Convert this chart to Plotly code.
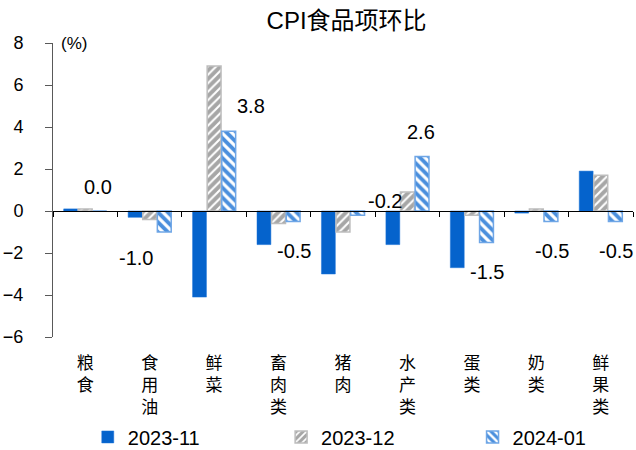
import plotly.graph_objects as go

categories = ["粮食", "食用油", "鲜菜", "畜肉类", "猪肉", "水产类", "蛋类", "奶类", "鲜果类"]
series_names = ["2023-11", "2023-12", "2024-01"]
v_2023_11 = [0.1, -0.3, -4.1, -1.6, -3.0, -1.6, -2.7, -0.1, 1.9]
v_2023_12 = [0.1, -0.4, 6.9, -0.6, -1.0, 0.9, -0.2, 0.1, 1.7]
v_2024_01 = [0.0, -1.0, 3.8, -0.5, -0.2, 2.6, -1.5, -0.5, -0.5]
y_ticks = [-6, -4, -2, 0, 2, 4, 6, 8]

# label pixel offsets (style only)
label_offsets = [(13, 24), (-14, -26), (37, 25), (15, -29), (42, 14),
                 (14, 24), (15, -29), (16, -29), (15, -29)]

vert = ["<br>".join(list(c)) for c in categories]

fig = go.Figure()
fig.add_trace(go.Bar(
    x=vert, y=v_2023_11, name=series_names[0], legend="legend",
    marker=dict(color="#0563CC", line=dict(color="#1A73D9", width=0.5)),
))
fig.add_trace(go.Bar(
    x=vert, y=v_2023_12, name=series_names[1], legend="legend2",
    marker=dict(color="#A6A6A6", line=dict(color="#BDBDBD", width=1.5),
                pattern=dict(shape="/", fgcolor="white", fgopacity=1, size=6, solidity=0.35)),
))
fig.add_trace(go.Bar(
    x=vert, y=v_2024_01, name=series_names[2], legend="legend3",
    marker=dict(color="#4A8FDD", line=dict(color="#6FA6E6", width=1.5),
                pattern=dict(shape="\\", fgcolor="white", fgopacity=1, size=7, solidity=0.45)),
))
# invisible trace to carry the zero-line axis
fig.add_trace(go.Scatter(x=vert, y=[None] * len(vert), xaxis="x2", mode="none",
                         showlegend=False, hoverinfo="skip"))

for i, (cat, v) in enumerate(zip(vert, v_2024_01)):
    dx, dy = label_offsets[i]
    fig.add_annotation(x=cat, y=v, text=f"{v:.1f}", showarrow=False,
                       xshift=dx, yshift=dy,
                       font=dict(family="Arial, Liberation Sans", size=20, color="black"))

fig.add_annotation(xref="paper", yref="paper", x=0.01, y=1.0, xanchor="left", yanchor="middle",
                   text="(%)", showarrow=False,
                   font=dict(family="Arial, Liberation Sans", size=17, color="black"))

leg_font = dict(family="Arial, Liberation Sans", size=20, color="black")
leg_common = dict(orientation="h", xref="container", yref="container",
                  yanchor="middle", y=0.029, xanchor="left",
                  font=leg_font, bgcolor="rgba(0,0,0,0)", itemwidth=30)

fig.update_layout(
    width=636, height=450,
    margin=dict(l=53, r=3, t=43, b=113, autoexpand=False),
    paper_bgcolor="white", plot_bgcolor="white",
    title=dict(text="CPI食品项环比", x=0.545, xanchor="center", y=0.955, yanchor="middle",
               font=dict(family="Liberation Sans, Noto Sans CJK SC", size=24, color="black")),
    barmode="group", bargap=0.32, bargroupgap=0.05,
    showlegend=True,
    legend=dict(x=0.138, **leg_common),
    legend2=dict(x=0.442, **leg_common),
    legend3=dict(x=0.743, **leg_common),
    xaxis=dict(type="category", range=[-0.5, 8.5], showline=False, ticks="",
               showgrid=False, zeroline=False, automargin=False,
               tickfont=dict(family="Noto Sans CJK SC", size=17, color="black"),
               ticklabelstandoff=14),
    xaxis2=dict(type="category", overlaying="x", anchor="free", position=6 / 14,
                range=[-0.5, 8.5], showline=True, linecolor="black", linewidth=1,
                ticks="outside", ticklen=5, tickcolor="black", tickson="boundaries",
                showticklabels=False, showgrid=False, zeroline=False, side="bottom"),
    yaxis=dict(range=[-6, 8], tickvals=y_ticks, showgrid=False, zeroline=False,
               showline=True, linecolor="#595959", linewidth=1, automargin=False,
               ticks="outside", ticklen=7, tickcolor="#595959",
               tickfont=dict(family="Arial, Liberation Sans", size=18, color="black"),
               ticklabelstandoff=18),
)

fig.write_html("out.html", config={"displayModeBar": False},
               post_script="document.body.style.margin='0';")
